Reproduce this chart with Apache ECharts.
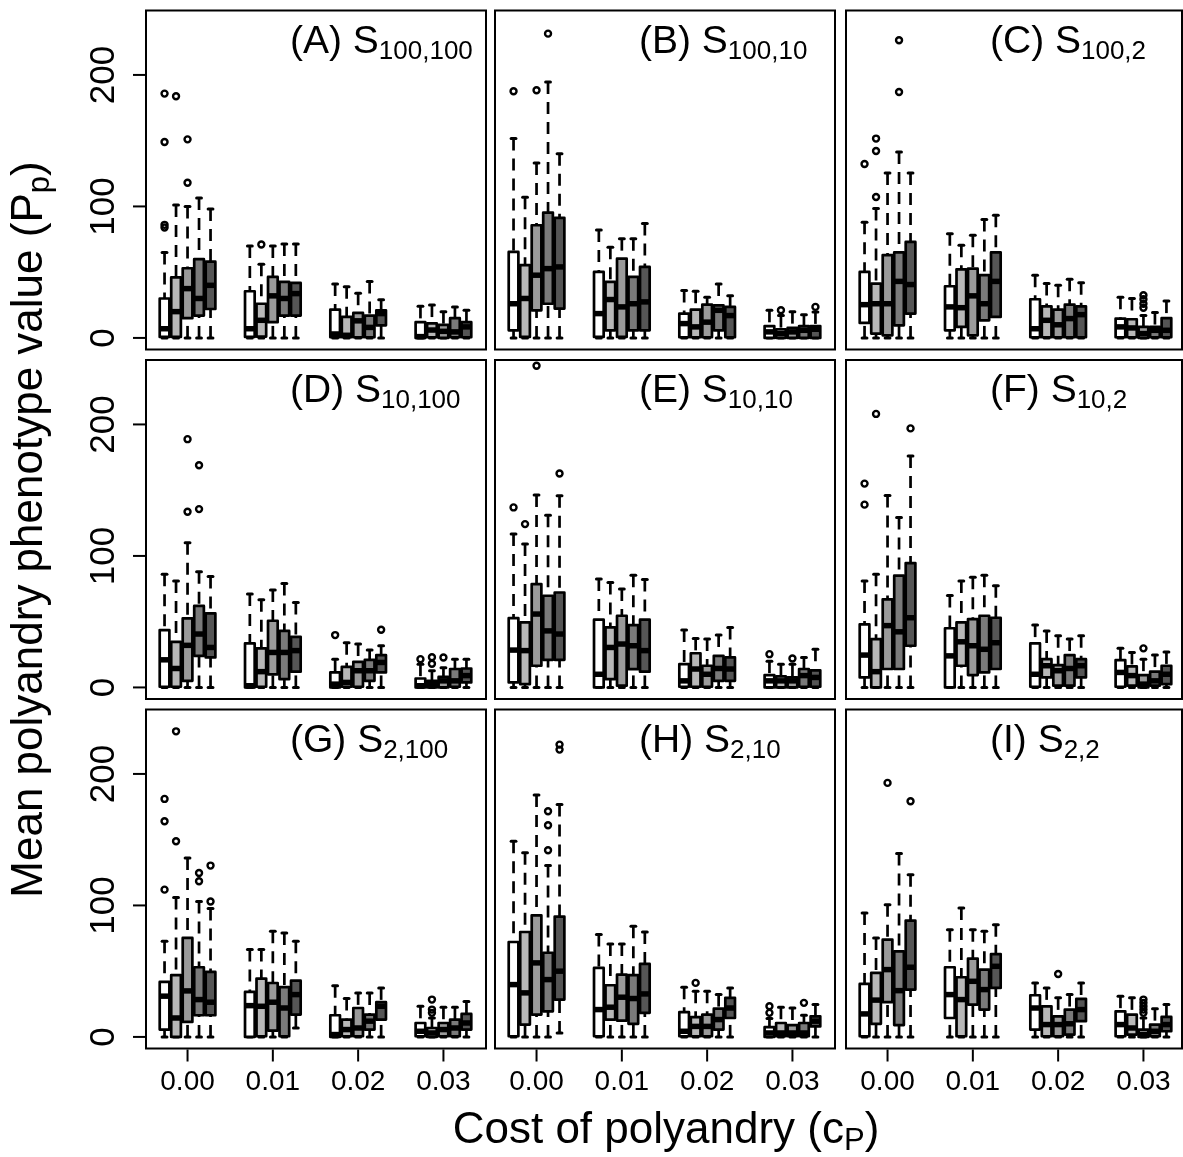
<!DOCTYPE html>
<html>
<head>
<meta charset="utf-8">
<script src="https://cdn.jsdelivr.net/npm/echarts@6/dist/echarts.min.js"></script>
<style>
html,body{margin:0;padding:0;background:#fff;}
#chart{width:1183px;height:1157px;}
</style>
</head>
<body>
<div id="chart"></div>
<script>
// ---------- data ----------
const costLabels = ['0.00', '0.01', '0.02', '0.03'];
const xTickValues = [0, 1, 2, 3];
const yTickValues = [0, 100, 200];
const panelLetters = ['A', 'B', 'C', 'D', 'E', 'F', 'G', 'H', 'I'];
const panelSubs = ['100,100', '100,10', '100,2', '10,100', '10,10', '10,2', '2,100', '2,10', '2,2'];
const boxColors = ['#ffffff', '#b8b8b8', '#9a9a9a', '#7a7a7a', '#555555'];

// each row: [lower whisker, Q1, median, Q3, upper whisker]; 4 cost groups x 5 boxes
const statsA = [
  [0, 0.8, 7, 30, 65], [0, 0.8, 20, 46, 101], [0, 15, 37.5, 53, 100], [0, 17, 30, 60, 106.5], [0, 22, 40, 58, 98],
  [0, 0.8, 7, 35.5, 70], [0, 1, 13.4, 26, 56], [0, 12, 32, 46.4, 70], [0, 17, 30, 42.6, 71.5], [0, 17, 33.7, 41.8, 71.5],
  [0, 0.5, 3, 21.5, 41], [0, 0.5, 2, 16, 39], [0, 0.5, 13, 19, 34], [0, 0.5, 8, 17, 43], [0, 9.6, 18.5, 21, 29],
  [0, 0, 1, 12, 24], [0, 0.5, 6, 11, 25], [0, 0, 5, 10, 20], [0, 0.5, 4.6, 15, 23.6], [0, 0.5, 8.4, 12, 21]
];
const outA = [[0, 185.8], [0, 149], [0, 86], [0, 84], [1, 183.8], [2, 151], [2, 118], [6, 71]];

const statsB = [
  [0, 5.8, 26, 65.4, 151.6], [0, 0.8, 30, 55.3, 107], [0, 21, 47.7, 85.7, 133], [0, 26, 52.7, 95.3, 194.7], [0, 22.3, 54, 91.3, 140],
  [0, 0.8, 18.5, 50.2, 82], [0, 5.8, 29.2, 42.6, 69], [0, 0.8, 23.6, 60.3, 75.5], [0, 5.8, 26, 46.4, 75.5], [0, 5.8, 27.4, 54, 87],
  [0, 0.5, 10.9, 18.5, 36], [0, 0.5, 8.4, 21.5, 35.5], [0, 0.5, 12, 25.3, 31], [0, 5.8, 21, 24.8, 41], [0, 0.5, 17, 23.6, 32],
  [0, 0, 4.6, 9, 21], [0, 0, 3.3, 6.6, 17], [0, 0, 4.6, 7.6, 20], [0, 0, 5.8, 9, 17.7], [0, 0, 6.6, 9, 19.8]
];
const outB = [[0, 187.6], [2, 188.3], [3, 231.4], [16, 21], [19, 23.6]];

const statsC = [
  [0, 11.4, 25.3, 50.2, 88], [0, 3.3, 26, 41.3, 98.4], [0, 2, 26, 63, 125.5], [0, 9.6, 43, 65, 141.4], [0, 18.5, 40.6, 73, 125.5],
  [0, 5.8, 23.6, 39.3, 79.3], [0, 8.4, 23, 52.2, 70.5], [0, 2, 32, 52.7, 78], [0, 13.4, 26, 47.7, 90], [0, 16, 43, 65, 93.3],
  [0, 0.5, 7, 29.4, 47.7], [0, 0.5, 13.4, 24, 41.3], [0, 0.5, 10, 21.5, 40], [0, 0.5, 14.7, 25.3, 44.6], [0, 0.5, 17.7, 24, 42],
  [0, 0.5, 8.4, 14.7, 31], [0, 0.5, 7.6, 14.2, 30], [0, 0, 3.3, 8.4, 17], [0, 0.5, 5.8, 8.4, 19.3], [0, 0.5, 5.8, 15, 28]
];
const outC = [[0, 132.3], [1, 151.6], [1, 142.2], [1, 107.2], [3, 187], [3, 226.4], [17, 32.4], [17, 29.4], [17, 26], [17, 23]];

const statsD = [
  [0, 0.5, 21, 43.6, 86], [0, 0.5, 14.4, 34.7, 81], [0, 5, 32, 52.5, 110], [0, 24, 40.6, 62, 88], [0, 22.8, 30.4, 56.3, 84.4],
  [0, 0, 1.3, 33.5, 71], [0, 0.5, 12, 29.7, 66.7], [0, 10, 26.6, 50.7, 74], [0, 6.3, 26.6, 43, 79], [0, 12, 28, 38.5, 64.6],
  [0, 0, 2.5, 11.4, 21.5], [0, 0.5, 3.8, 15.7, 34], [0, 0.5, 12.7, 19.5, 33], [0, 5, 12.7, 21, 28.4], [0, 11.4, 19, 24.6, 31.7],
  [0, 0, 1.3, 6.8, 17.7], [0, 0, 2.5, 5, 12.7], [0, 0, 5, 8, 15], [0, 0.5, 5, 14, 21.5], [0, 3.8, 9, 14.4, 21.5]
];
const outD = [[2, 133.6], [2, 188.8], [3, 135.6], [3, 169], [10, 39.8], [14, 43.9], [15, 21.5], [16, 18], [16, 23], [17, 22.8]];

const statsE = [
  [0, 3.8, 28.4, 52.7, 116.6], [0, 2.5, 28, 49.4, 109], [0, 16.5, 55.8, 78.6, 146.3], [0, 21, 43, 69.7, 131], [0, 21, 40.6, 72.2, 145.8],
  [0, 0, 10, 51.5, 82.4], [0, 6.3, 30.4, 45.6, 79.8], [0, 1.3, 33, 54.5, 74.8], [0, 13.9, 31.7, 47.4, 85.4], [0, 12, 28, 51.5, 82],
  [0, 0.5, 5, 17.7, 43.6], [0, 0.5, 14, 26, 37.3], [0, 0.5, 10, 16.5, 36.8], [0, 5, 14.4, 24, 39.8], [0, 5, 14, 22.8, 45.6],
  [0, 0, 5, 9.4, 20], [0, 0, 5, 8.4, 17.7], [0, 0, 5, 7.6, 17.7], [0, 0.5, 9, 14, 22.8], [0, 0.5, 7.6, 13, 29]
];
const outE = [[0, 136.9], [1, 124.2], [2, 244.6], [4, 162.7], [15, 25.3], [17, 22]];

const statsF = [
  [0, 7.6, 24.6, 48, 81], [0, 0, 12, 36.8, 86], [0, 14, 47, 67, 146], [0, 14, 42.3, 85, 129.3], [0, 31.7, 53, 94.6, 176],
  [0, 0, 24, 45, 70], [0, 16.5, 34.7, 49.4, 81], [0, 9.4, 31.7, 52, 83.7], [0, 11.4, 29, 54.5, 85.4], [0, 14, 34, 53, 77.3],
  [0, 0.5, 10, 33.5, 47.4], [0, 7.6, 16.5, 21.5, 43], [0, 1.3, 12.7, 17, 39.3], [0, 1.3, 14.4, 24.6, 36.8], [0, 7.6, 16.5, 21.5, 39.3],
  [0, 0.5, 11.4, 20.8, 29.7], [0, 1.3, 9, 16, 26.6], [0, 0, 2.5, 9.4, 21.5], [0, 1.3, 5, 12, 24.6], [0, 2.5, 10, 16.5, 27]
];
const outF = [[0, 155], [0, 139], [1, 208], [4, 197], [17, 29.7]];

const statsG = [
  [0, 5.6, 31, 41.8, 72.7], [0, 0, 14.4, 47, 106], [0, 11.4, 35, 75.3, 136], [0, 16.5, 28.4, 53, 103], [0, 16.5, 26.4, 49.4, 97.6],
  [0, 0, 23.8, 34.2, 66.4], [0, 0.5, 23.3, 44.4, 66.4], [0, 4.8, 26.4, 41, 80.4], [0, 0.5, 22, 37.8, 79], [6.8, 17, 32.2, 42.8, 72.7],
  [0, 0, 1.8, 16.5, 39], [0, 0.5, 5.6, 13.2, 29.2], [0, 0.5, 6.8, 22, 33.5], [0, 5.6, 12, 17, 33.5], [0, 13.2, 23.3, 26.4, 37.3],
  [0, 0.5, 4.3, 10.6, 23.3], [0, 0, 3, 6.8, 14.4], [0, 0.5, 5.6, 10.6, 22.6], [0, 0.5, 6.8, 13.2, 22.6], [0, 5.6, 10.6, 17.5, 27]
];
const outG = [[0, 112], [0, 164], [0, 181], [1, 148.8], [1, 232.4], [3, 124.7], [3, 118.4], [4, 130.3], [4, 103], [16, 28.4], [16, 20.8], [16, 18.3]];

const statsH = [
  [0, 0.5, 39.8, 72.2, 148.8], [0, 9.4, 33.5, 79.8, 140], [0, 17, 56.3, 92.5, 184], [0, 19.5, 43.6, 64, 130.3], [3, 28.4, 50, 91.5, 176.7],
  [0, 0.5, 20.8, 52.5, 77.8], [0, 13.2, 22.6, 39.3, 70.7], [0, 12.4, 30.2, 47.4, 70.7], [0, 10, 29.2, 47, 84.2], [0, 18.3, 32.7, 55.5, 79.8],
  [0, 0.5, 4.3, 18.8, 37.8], [0, 0.5, 8, 15, 34.7], [0, 0.5, 8, 17, 34.7], [0, 5.6, 13.2, 21.5, 32.2], [0, 14.4, 22, 29.7, 37.3],
  [0, 0, 3, 7.4, 14], [0, 0.5, 3, 10.6, 22.6], [0, 0.5, 3, 9, 22], [0, 0.5, 3, 10.6, 16.5], [0, 8, 12, 15.7, 24.6]
];
const outH = [[3, 171.6], [3, 161], [3, 142], [4, 222.3], [4, 218.5], [11, 41.1], [15, 23.3], [15, 18.3], [18, 25.9]];

const statsI = [
  [0, 0.5, 17.5, 40.3, 94.3], [0, 10, 28, 48.7, 75.3], [0, 26.4, 51.2, 74, 100.6], [0, 9, 35.2, 65, 139.4], [0, 36, 53, 88.5, 123.4],
  [0, 14.4, 32.2, 53, 81.6], [0, 0.5, 28.4, 45.4, 98], [0, 24.6, 42.3, 59.6, 81.6], [0, 20.8, 36, 51.2, 80.4], [0, 37.3, 53.7, 63, 85.4],
  [0, 5.6, 22, 31.7, 41], [0, 0.5, 9.4, 23.3, 37.3], [0, 0.5, 9.4, 15.7, 29.7], [0, 1.8, 10, 20.8, 32.2], [0, 12, 20.8, 29, 41],
  [0, 0.5, 9.4, 19.5, 31], [0, 1.8, 6.8, 17, 29.7], [0, 0, 1.8, 5.6, 14.4], [0, 0.5, 4.3, 9.4, 21.5], [0, 4.3, 9.4, 15.2, 24.6]
];
const outI = [[2, 193.2], [4, 179.2], [12, 47.9], [17, 28.4], [17, 25.9], [17, 23.3], [17, 20.8], [17, 18.3]];

const panelStats = [statsA, statsB, statsC, statsD, statsE, statsF, statsG, statsH, statsI];
const panelOutliers = [outA, outB, outC, outD, outE, outF, outG, outH, outI];

// ---------- layout ----------
const FONT = 'Liberation Sans';
const colLeft = [146, 495, 846];
const colWidth = [340, 340, 336];
const rowTop = [10.5, 360, 709.5];
const rowHeight = 339;
const X_MIN = -0.487;
const X_PER_PX = 1 / 85.3;
const Y_MIN = -8.8, Y_MAX = 249;
const BOX_STEP = 0.1348;       // spacing between boxes within a group (axis units)
const BOX_WIDTH = 0.84 * BOX_STEP;
const BOXES_PER_GROUP = 5;
const TICK_LEN = 13;

function boxX(idx) {
  const g = Math.floor(idx / BOXES_PER_GROUP);
  const k = idx % BOXES_PER_GROUP;
  return g + (k - 2) * BOX_STEP;
}

function renderBox(params, api) {
  const x = api.value(0);
  const ci = api.value(6);
  const pMin = api.coord([x, api.value(1)]);
  const pQ1 = api.coord([x, api.value(2)]);
  const pMed = api.coord([x, api.value(3)]);
  const pQ3 = api.coord([x, api.value(4)]);
  const pMax = api.coord([x, api.value(5)]);
  const halfW = api.size([BOX_WIDTH, 0])[0] / 2;
  const sw = halfW * 0.5;
  const cx = pMin[0];
  const lw = 2.7;
  const dash = [12, 8];
  return {
    type: 'group',
    children: [
      { type: 'line', shape: { x1: cx, y1: pMax[1], x2: cx, y2: pQ3[1] },
        style: { stroke: '#000', lineWidth: lw, lineDash: dash } },
      { type: 'line', shape: { x1: cx, y1: pMin[1], x2: cx, y2: pQ1[1] },
        style: { stroke: '#000', lineWidth: lw, lineDash: dash } },
      { type: 'line', shape: { x1: cx - sw, y1: pMax[1], x2: cx + sw, y2: pMax[1] },
        style: { stroke: '#000', lineWidth: 3, lineCap: 'round' } },
      { type: 'line', shape: { x1: cx - sw, y1: pMin[1], x2: cx + sw, y2: pMin[1] },
        style: { stroke: '#000', lineWidth: 3, lineCap: 'round' } },
      { type: 'rect', shape: { x: cx - halfW, y: pQ3[1], width: 2 * halfW, height: pQ1[1] - pQ3[1] },
        style: { fill: boxColors[ci], stroke: '#000', lineWidth: lw, lineJoin: 'round' } },
      { type: 'line', shape: { x1: cx - halfW, y1: pMed[1], x2: cx + halfW, y2: pMed[1] },
        style: { stroke: '#000', lineWidth: 5.5, lineCap: 'butt' } }
    ]
  };
}

// tick marks placed through the axis scales (bottom row: x ticks, left column: y ticks)
function renderXTick(params, api) {
  const p = api.coord([api.value(0), api.value(1)]);
  return { type: 'line', shape: { x1: p[0], y1: p[1] + 1, x2: p[0], y2: p[1] + TICK_LEN },
           style: { stroke: '#000', lineWidth: 2 } };
}
function renderYTick(params, api) {
  const p = api.coord([api.value(0), api.value(1)]);
  return { type: 'line', shape: { x1: p[0] - 1, y1: p[1], x2: p[0] - TICK_LEN, y2: p[1] },
           style: { stroke: '#000', lineWidth: 2 } };
}

const grids = [], xAxes = [], yAxes = [], series = [], graphics = [];

panelStats.forEach((stats, i) => {
  const r = Math.floor(i / 3), c = i % 3;
  grids.push({
    left: colLeft[c], top: rowTop[r], width: colWidth[c], height: rowHeight,
    show: true, borderColor: '#000', borderWidth: 2, backgroundColor: 'transparent'
  });
  xAxes.push({
    type: 'value', gridIndex: i, position: 'bottom',
    min: X_MIN, max: X_MIN + colWidth[c] * X_PER_PX,
    axisLine: { show: false, onZero: false },
    splitLine: { show: false },
    axisTick: { show: false },
    axisLabel: {
      show: r === 2, customValues: xTickValues, margin: 19.5,
      formatter: (v) => costLabels[Math.round(v)], fontSize: 28, color: '#000', fontFamily: FONT
    }
  });
  yAxes.push({
    type: 'value', gridIndex: i, min: Y_MIN, max: Y_MAX, position: 'left',
    axisLine: { show: false, onZero: false },
    splitLine: { show: false },
    axisTick: { show: false },
    axisLabel: {
      show: c === 0, customValues: yTickValues, rotate: 90, margin: 24,
      fontSize: 35, color: '#000', fontFamily: FONT
    }
  });
  series.push({
    type: 'custom', xAxisIndex: i, yAxisIndex: i,
    renderItem: renderBox,
    encode: { x: 0, y: [1, 2, 3, 4, 5] },
    data: stats.map((s, j) => [boxX(j), s[0], s[1], s[2], s[3], s[4], j % BOXES_PER_GROUP]),
    silent: true, animation: false, clip: false
  });
  series.push({
    type: 'scatter', xAxisIndex: i, yAxisIndex: i,
    symbol: 'circle', symbolSize: 6,
    itemStyle: { color: 'rgba(0,0,0,0)', borderColor: '#000', borderWidth: 2.4, opacity: 1 },
    data: panelOutliers[i].map(o => [boxX(o[0]), o[1]]),
    silent: true, animation: false
  });
  if (r === 2) {
    series.push({
      type: 'custom', xAxisIndex: i, yAxisIndex: i, renderItem: renderXTick,
      encode: { x: 0, y: 1 }, data: xTickValues.map(v => [v, Y_MIN]),
      silent: true, animation: false, clip: false, z: 5
    });
  }
  if (c === 0) {
    series.push({
      type: 'custom', xAxisIndex: i, yAxisIndex: i, renderItem: renderYTick,
      encode: { x: 0, y: 1 }, data: yTickValues.map(v => [X_MIN, v]),
      silent: true, animation: false, clip: false, z: 5
    });
  }
  graphics.push({
    type: 'text', x: colLeft[c] + 144, y: rowTop[r] + 12,
    style: {
      text: '{m|(' + panelLetters[i] + ') S}{s|' + panelSubs[i] + '}',
      align: 'left', verticalAlign: 'top',
      rich: {
        m: { fontSize: 39, lineHeight: 39, verticalAlign: 'top', fontFamily: FONT, fill: '#000' },
        s: { fontSize: 26, lineHeight: 26, verticalAlign: 'top', padding: [16, 0, 0, 0], fontFamily: FONT, fill: '#000' }
      }
    }
  });
});

// axis titles
graphics.push({
  type: 'text', x: 666, y: 1108.8,
  style: {
    text: '{m|Cost of polyandry (c}{s|P}{m|)}',
    align: 'center', verticalAlign: 'top',
    rich: {
      m: { fontSize: 44, lineHeight: 44, verticalAlign: 'top', fontFamily: FONT, fill: '#000' },
      s: { fontSize: 31, lineHeight: 31, verticalAlign: 'top', padding: [17, 0, 0, 0], fontFamily: FONT, fill: '#000' }
    }
  }
});
graphics.push({
  type: 'text', x: 7.8, y: 529.5, rotation: Math.PI / 2,
  style: {
    text: '{m|Mean polyandry phenotype value (P}{s|p}{m|)}',
    align: 'center', verticalAlign: 'top',
    rich: {
      m: { fontSize: 44, lineHeight: 44, verticalAlign: 'top', fontFamily: FONT, fill: '#000' },
      s: { fontSize: 31, lineHeight: 31, verticalAlign: 'top', padding: [17, 0, 0, 0], fontFamily: FONT, fill: '#000' }
    }
  }
});

const chart = echarts.init(document.getElementById('chart'), null, { renderer: 'canvas' });
chart.setOption({
  animation: false,
  backgroundColor: '#ffffff',
  textStyle: { fontFamily: FONT },
  grid: grids,
  xAxis: xAxes,
  yAxis: yAxes,
  series: series,
  graphic: graphics
});
</script>
</body>
</html>
